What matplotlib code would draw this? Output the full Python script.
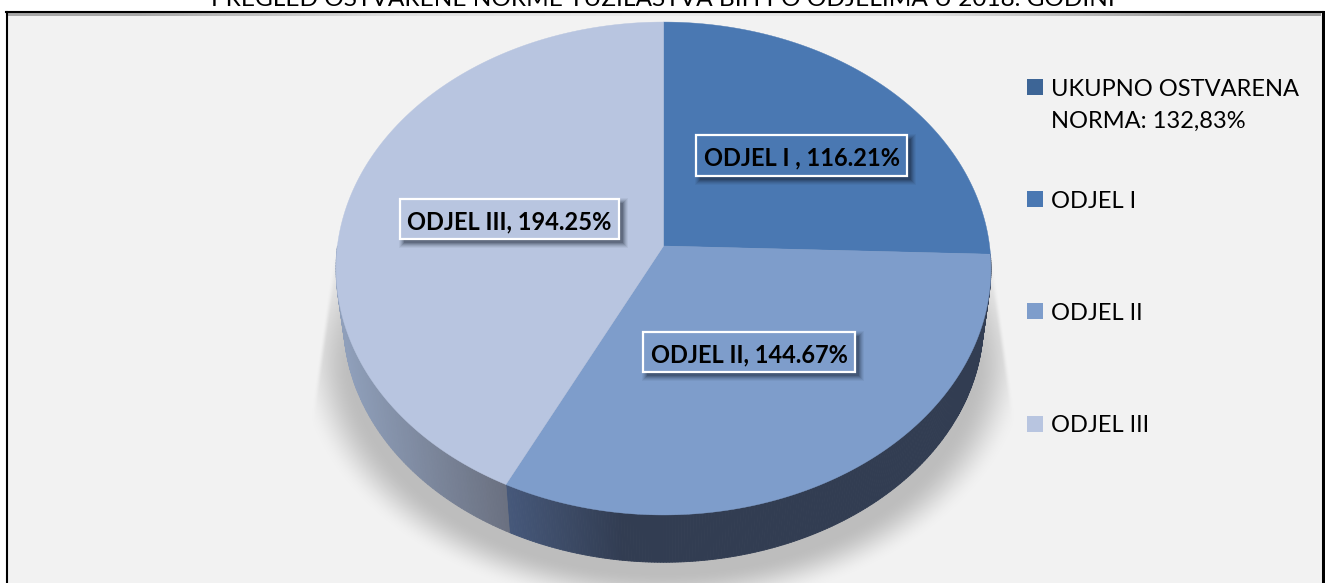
import numpy as np
from matplotlib import pyplot as plt
from matplotlib.collections import PolyCollection
from matplotlib.patches import Polygon, Rectangle

plt.rcParams['font.family'] = ['Lato', 'DejaVu Sans']

title = "PREGLED OSTVARENE NORME TUŽILAŠTVA BIH PO ODJELIMA U 2018. GODINI"

# chart data
categories = ["UKUPNO OSTVARENA\nNORMA: 132,83%", "ODJEL I", "ODJEL II", "ODJEL III"]
values = [0, 116.21, 144.67, 194.25]
value_names = ["", "ODJEL I ", "ODJEL II", "ODJEL III"]
colors = ["#3d6596", "#4a78b2", "#7e9dcb", "#b8c5e0"]

# side colours of the rim, left end and right end of the x range
side_left = {2: "#46587a", 3: "#8f9fba"}
side_right = {2: "#323d52", 3: "#6a7080"}
side_range = {2: (507, 620), 3: (345, 506)}

# pie geometry in pixels
cx, cy = 663.5, 246
a, b, k = 326.1, 244.4, 0.0913
cx2, cy2, shrink = 663.5, 299.5, 0.977


def project(theta, bottom=False):
    # unit circle point -> screen pixel, with a bit of perspective
    u, v = np.cos(theta), np.sin(theta)
    s = 1 / (1 + k * v)
    if bottom:
        return cx2 + shrink * a * u * s, cy2 - shrink * b * v * s
    return cx + a * u * s, cy - b * v * s


def hex_rgb(c):
    return np.array([int(c[i:i + 2], 16) / 255 for i in (1, 3, 5)])


def smooth(t):
    t = np.clip(t, 0, 1)
    return t * t * (3 - 2 * t)


fig = plt.figure(figsize=(13.25, 5.83), dpi=100, facecolor="white")
ax = fig.add_axes([0, 0, 1, 1])

# the pie only gives us the slice angles, they get projected below
wedges, _ = ax.pie(values, colors=colors, startangle=90, counterclock=False)
angles = [(w.theta1, w.theta2) for w in wedges]
for w in wedges:
    w.remove()

ax.set_xlim(0, 1325)
ax.set_ylim(583, 0)
ax.set_aspect("auto")
ax.axis("off")

# panel and frame
ax.add_patch(Rectangle((7, 12), 1315, 580, facecolor="#f2f2f2", edgecolor="none", zorder=0))
band = np.array([[[0.66] * 3, [0.88] * 3, [0.92] * 3, [0.88] * 3, [0.62] * 3]])
ax.imshow(band, extent=(8, 1321, 16, 13), aspect="auto", interpolation="bilinear", zorder=1)
ax.plot([7, 7], [590, 12], color="black", lw=1.5, zorder=2)
ax.plot([6, 1323], [12, 12], color="black", lw=1.5, zorder=2)
ax.plot([1322.5, 1322.5], [590, 12], color="black", lw=2.2, zorder=2)

# soft shadow under the pie
yy, xx = np.mgrid[0:583, 0:1325]
xx = xx + 0.5
yy = yy + 0.5
r = np.hypot((xx - 663) / 366, (yy - 355) / 256)
shadow = smooth((1 - r) / 0.15)
half_width = 321 + (yy - 193) * 29 / 204
cone = smooth((half_width - np.abs(xx - 663)) / 6)
shadow = shadow * cone * (0.6 + 0.4 * smooth((yy - 240) / 140)) * smooth((yy - 190) / 30)
rgba = np.zeros((583, 1325, 4))
rgba[..., :3] = 0.745
rgba[..., 3] = shadow
ax.imshow(rgba, extent=(0, 1325, 583, 0), aspect="auto", interpolation="bilinear", zorder=3)
ax.set_xlim(0, 1325)
ax.set_ylim(583, 0)

# rim of the pie, front part only
for i, (t1, t2) in enumerate(angles):
    if i not in side_left:
        continue
    th = np.radians(np.linspace(t1, t2, 240))
    th = th[np.sin(th) < 0]
    xt, yt = project(th)
    xb, yb = project(th, bottom=True)
    quads = []
    quad_colors = []
    lo, hi = side_range[i]
    for j in range(len(th) - 1):
        quads.append([(xt[j], yt[j]), (xt[j + 1], yt[j + 1]), (xb[j + 1], yb[j + 1]), (xb[j], yb[j])])
        f = np.clip((xt[j] - lo) / (hi - lo), 0, 1)
        quad_colors.append(hex_rgb(side_left[i]) * (1 - f) + hex_rgb(side_right[i]) * f)
    ax.add_collection(PolyCollection(quads, facecolors=quad_colors, edgecolors="face",
                                     linewidths=0.6, zorder=4))

# top face of the pie
for i, (t1, t2) in enumerate(angles):
    if values[i] == 0:
        continue
    th = np.radians(np.linspace(t1, t2, 300))
    xt, yt = project(th)
    pts = np.column_stack([np.r_[cx, xt], np.r_[cy, yt]])
    ax.add_patch(Polygon(pts, closed=True, facecolor=colors[i], edgecolor=colors[i], lw=0.3, zorder=5))

# data labels
label_boxes = {1: (696, 135, 211, 41), 2: (643, 332, 212, 40), 3: (400, 199, 219, 40)}
for i, (x0, y0, w, h) in label_boxes.items():
    for grow, alpha in zip((5, 4, 3, 2, 1, 0), (0.05, 0.07, 0.09, 0.12, 0.15, 0.18)):
        ax.add_patch(Rectangle((x0 + 4 - grow, y0 + 4 - grow), w + 2 * grow, h + 2 * grow,
                               facecolor="#101828", edgecolor="none", alpha=alpha, zorder=6))
    ax.add_patch(Rectangle((x0, y0), w, h, facecolor=colors[i], edgecolor="white", lw=1.6, zorder=7))
    ax.text(x0 + w / 2, y0 + h / 2 + 2.5, f"{value_names[i]}, {values[i]:.2f}%", ha="center", va="center",
            fontsize=17, fontweight="bold", color="black", zorder=8)

# legend
legend_y = [87, 199, 311, 424]
for name, col, y in zip(categories, colors, legend_y):
    ax.add_patch(Rectangle((1027, y - 8), 16, 16, facecolor=col, edgecolor="none", zorder=6))
    ax.text(1051, y - 8.5, name, ha="left", va="top", fontsize=17, color="black",
            linespacing=1.68, zorder=6)

# title is cut off by the top of the page
ax.text(663, 6, title, ha="center", va="baseline", fontsize=17.55, color="black", zorder=6)

fig.savefig("out.png", dpi=100)
